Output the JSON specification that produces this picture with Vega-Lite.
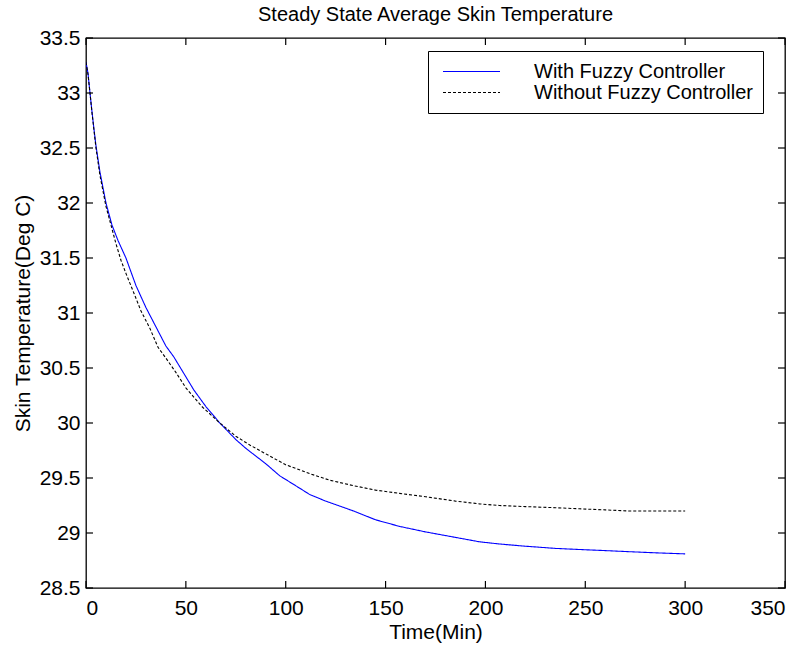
{
  "$schema": "https://vega.github.io/schema/vega-lite/v6.json",
  "width": 699,
  "height": 550,
  "autosize": "none",
  "padding": {"left": 86, "top": 38, "right": 18, "bottom": 61},
  "background": "white",
  "title": {"text": "Steady State Average Skin Temperature", "font": "Liberation Sans", "fontSize": 20, "fontWeight": "normal", "color": "black", "offset": 2},
  "config": {
    "view": {"stroke": "black", "strokeWidth": 1.3},
    "axis": {"grid": false, "domain": false, "ticks": false, "labelFont": "Liberation Sans", "labelFontSize": 21, "labelColor": "black", "titleFont": "Liberation Sans", "titleFontSize": 21, "titleFontWeight": "normal", "titleColor": "black"}
  },
  "datasets": {
    "curves": [
      {"t": 0, "T": 33.28, "s": "With Fuzzy Controller"},
      {"t": 1, "T": 33.18, "s": "With Fuzzy Controller"},
      {"t": 2, "T": 33.0, "s": "With Fuzzy Controller"},
      {"t": 3, "T": 32.83, "s": "With Fuzzy Controller"},
      {"t": 4, "T": 32.67, "s": "With Fuzzy Controller"},
      {"t": 5, "T": 32.52, "s": "With Fuzzy Controller"},
      {"t": 7, "T": 32.28, "s": "With Fuzzy Controller"},
      {"t": 10, "T": 32.0, "s": "With Fuzzy Controller"},
      {"t": 13, "T": 31.8, "s": "With Fuzzy Controller"},
      {"t": 16, "T": 31.66, "s": "With Fuzzy Controller"},
      {"t": 20, "T": 31.5, "s": "With Fuzzy Controller"},
      {"t": 25, "T": 31.25, "s": "With Fuzzy Controller"},
      {"t": 30, "T": 31.05, "s": "With Fuzzy Controller"},
      {"t": 34, "T": 30.91, "s": "With Fuzzy Controller"},
      {"t": 40, "T": 30.7, "s": "With Fuzzy Controller"},
      {"t": 44, "T": 30.6, "s": "With Fuzzy Controller"},
      {"t": 50, "T": 30.42, "s": "With Fuzzy Controller"},
      {"t": 54, "T": 30.3, "s": "With Fuzzy Controller"},
      {"t": 60, "T": 30.15, "s": "With Fuzzy Controller"},
      {"t": 67, "T": 30.0, "s": "With Fuzzy Controller"},
      {"t": 75, "T": 29.85, "s": "With Fuzzy Controller"},
      {"t": 80, "T": 29.77, "s": "With Fuzzy Controller"},
      {"t": 90, "T": 29.63, "s": "With Fuzzy Controller"},
      {"t": 97, "T": 29.52, "s": "With Fuzzy Controller"},
      {"t": 105, "T": 29.43, "s": "With Fuzzy Controller"},
      {"t": 112, "T": 29.35, "s": "With Fuzzy Controller"},
      {"t": 120, "T": 29.29, "s": "With Fuzzy Controller"},
      {"t": 134, "T": 29.2, "s": "With Fuzzy Controller"},
      {"t": 145, "T": 29.12, "s": "With Fuzzy Controller"},
      {"t": 157, "T": 29.06, "s": "With Fuzzy Controller"},
      {"t": 170, "T": 29.01, "s": "With Fuzzy Controller"},
      {"t": 185, "T": 28.96, "s": "With Fuzzy Controller"},
      {"t": 197, "T": 28.92, "s": "With Fuzzy Controller"},
      {"t": 207, "T": 28.9, "s": "With Fuzzy Controller"},
      {"t": 220, "T": 28.88, "s": "With Fuzzy Controller"},
      {"t": 235, "T": 28.86, "s": "With Fuzzy Controller"},
      {"t": 247, "T": 28.85, "s": "With Fuzzy Controller"},
      {"t": 260, "T": 28.84, "s": "With Fuzzy Controller"},
      {"t": 272, "T": 28.83, "s": "With Fuzzy Controller"},
      {"t": 285, "T": 28.82, "s": "With Fuzzy Controller"},
      {"t": 300, "T": 28.81, "s": "With Fuzzy Controller"},
      {"t": 0, "T": 33.28, "s": "Without Fuzzy Controller"},
      {"t": 1, "T": 33.17, "s": "Without Fuzzy Controller"},
      {"t": 2, "T": 33.0, "s": "Without Fuzzy Controller"},
      {"t": 3, "T": 32.82, "s": "Without Fuzzy Controller"},
      {"t": 4, "T": 32.66, "s": "Without Fuzzy Controller"},
      {"t": 5, "T": 32.5, "s": "Without Fuzzy Controller"},
      {"t": 7, "T": 32.25, "s": "Without Fuzzy Controller"},
      {"t": 10, "T": 31.97, "s": "Without Fuzzy Controller"},
      {"t": 12.5, "T": 31.8, "s": "Without Fuzzy Controller"},
      {"t": 15, "T": 31.63, "s": "Without Fuzzy Controller"},
      {"t": 17.5, "T": 31.48, "s": "Without Fuzzy Controller"},
      {"t": 20, "T": 31.36, "s": "Without Fuzzy Controller"},
      {"t": 24, "T": 31.18, "s": "Without Fuzzy Controller"},
      {"t": 27.5, "T": 31.02, "s": "Without Fuzzy Controller"},
      {"t": 32, "T": 30.86, "s": "Without Fuzzy Controller"},
      {"t": 36, "T": 30.69, "s": "Without Fuzzy Controller"},
      {"t": 40, "T": 30.59, "s": "Without Fuzzy Controller"},
      {"t": 45, "T": 30.46, "s": "Without Fuzzy Controller"},
      {"t": 50, "T": 30.32, "s": "Without Fuzzy Controller"},
      {"t": 58, "T": 30.15, "s": "Without Fuzzy Controller"},
      {"t": 67, "T": 30.0, "s": "Without Fuzzy Controller"},
      {"t": 75, "T": 29.88, "s": "Without Fuzzy Controller"},
      {"t": 82, "T": 29.8, "s": "Without Fuzzy Controller"},
      {"t": 90, "T": 29.72, "s": "Without Fuzzy Controller"},
      {"t": 100, "T": 29.62, "s": "Without Fuzzy Controller"},
      {"t": 112, "T": 29.54, "s": "Without Fuzzy Controller"},
      {"t": 122, "T": 29.48, "s": "Without Fuzzy Controller"},
      {"t": 134, "T": 29.43, "s": "Without Fuzzy Controller"},
      {"t": 145, "T": 29.39, "s": "Without Fuzzy Controller"},
      {"t": 157, "T": 29.36, "s": "Without Fuzzy Controller"},
      {"t": 170, "T": 29.33, "s": "Without Fuzzy Controller"},
      {"t": 185, "T": 29.29, "s": "Without Fuzzy Controller"},
      {"t": 197, "T": 29.265, "s": "Without Fuzzy Controller"},
      {"t": 207, "T": 29.25, "s": "Without Fuzzy Controller"},
      {"t": 220, "T": 29.24, "s": "Without Fuzzy Controller"},
      {"t": 235, "T": 29.23, "s": "Without Fuzzy Controller"},
      {"t": 247, "T": 29.22, "s": "Without Fuzzy Controller"},
      {"t": 260, "T": 29.21, "s": "Without Fuzzy Controller"},
      {"t": 272, "T": 29.2, "s": "Without Fuzzy Controller"},
      {"t": 285, "T": 29.2, "s": "Without Fuzzy Controller"},
      {"t": 300, "T": 29.2, "s": "Without Fuzzy Controller"}
    ],
    "xticks": [{"v": 0}, {"v": 50}, {"v": 100}, {"v": 150}, {"v": 200}, {"v": 250}, {"v": 300}, {"v": 350}],
    "yticks": [{"v": 28.5}, {"v": 29}, {"v": 29.5}, {"v": 30}, {"v": 30.5}, {"v": 31}, {"v": 31.5}, {"v": 32}, {"v": 32.5}, {"v": 33}, {"v": 33.5}]
  },
  "layer": [
    {
      "data": {"name": "curves"},
      "mark": {"type": "line", "strokeWidth": 1.1, "clip": true},
      "encoding": {
        "x": {"field": "t", "type": "quantitative", "title": "Time(Min)", "scale": {"domain": [0, 350], "nice": false},
              "axis": {"orient": "bottom", "values": [0, 50, 100, 150, 200, 250, 300, 350], "labelPadding": 9, "titlePadding": 3}},
        "y": {"field": "T", "type": "quantitative", "title": "Skin Temperature(Deg C)", "scale": {"domain": [28.5, 33.5], "nice": false, "zero": false},
              "axis": {"orient": "left", "values": [28.5, 29, 29.5, 30, 30.5, 31, 31.5, 32, 32.5, 33, 33.5], "format": "~g", "labelPadding": 6, "titlePadding": 6}},
        "stroke": {"field": "s", "type": "nominal", "scale": {"domain": ["With Fuzzy Controller", "Without Fuzzy Controller"], "range": ["#0000ff", "#000000"]},
                  "legend": {"title": null, "orient": "none", "legendX": 342, "legendY": 13, "strokeColor": "black", "fillColor": "white", "padding": 10, "symbolType": "M-3,0L3,0", "symbolSize": 361, "symbolOffset": 23, "symbolStrokeWidth": 1.2, "labelOffset": 52, "labelLimit": 400, "labelFont": "Liberation Sans", "labelFontSize": 20, "labelColor": "black", "rowPadding": -1}},
        "strokeDash": {"field": "s", "type": "nominal", "scale": {"domain": ["With Fuzzy Controller", "Without Fuzzy Controller"], "range": [[1, 0], [3, 2]]}, "legend": null}
      }
    },
    {
      "data": {"name": "xticks"},
      "mark": {"type": "tick", "orient": "vertical", "color": "black", "size": 7, "thickness": 1.2, "opacity": 1},
      "encoding": {
        "x": {"field": "v", "type": "quantitative", "axis": null},
        "y": {"datum": 28.532, "type": "quantitative", "axis": null}
      }
    },
    {
      "data": {"name": "xticks"},
      "mark": {"type": "tick", "orient": "vertical", "color": "black", "size": 7, "thickness": 1.2, "opacity": 1},
      "encoding": {
        "x": {"field": "v", "type": "quantitative", "axis": null},
        "y": {"datum": 33.468, "type": "quantitative", "axis": null}
      }
    },
    {
      "data": {"name": "yticks"},
      "mark": {"type": "tick", "orient": "horizontal", "color": "black", "size": 7, "thickness": 1.2, "opacity": 1},
      "encoding": {
        "y": {"field": "v", "type": "quantitative", "axis": null},
        "x": {"datum": 1.75, "type": "quantitative", "axis": null}
      }
    },
    {
      "data": {"name": "yticks"},
      "mark": {"type": "tick", "orient": "horizontal", "color": "black", "size": 7, "thickness": 1.2, "opacity": 1},
      "encoding": {
        "y": {"field": "v", "type": "quantitative", "axis": null},
        "x": {"datum": 348.25, "type": "quantitative", "axis": null}
      }
    }
  ],
  "resolve": {"axis": {"x": "independent", "y": "independent"}}
}
